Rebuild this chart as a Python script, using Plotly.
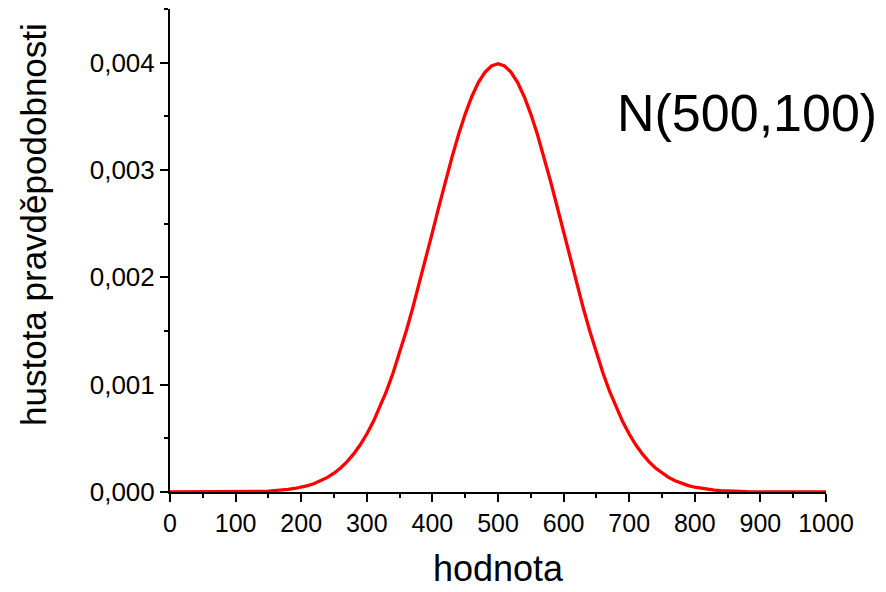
import plotly.graph_objects as go

hodnota = [0, 10, 20, 30, 40, 50, 60, 70, 80, 90,
           100, 110, 120, 130, 140, 150, 160, 170, 180, 190,
           200, 210, 220, 230, 240, 250, 260, 270, 280, 290,
           300, 310, 320, 330, 340, 350, 360, 370, 380, 390,
           400, 410, 420, 430, 440, 450, 460, 470, 480, 490,
           500, 510, 520, 530, 540, 550, 560, 570, 580, 590,
           600, 610, 620, 630, 640, 650, 660, 670, 680, 690,
           700, 710, 720, 730, 740, 750, 760, 770, 780, 790,
           800, 810, 820, 830, 840, 850, 860, 870, 880, 890,
           900, 910, 920, 930, 940, 950, 960, 970, 980, 990, 1000]
hustota = [0.0000000, 0.0000000, 0.0000000, 0.0000001, 0.0000001,
           0.0000002, 0.0000003, 0.0000004, 0.0000006, 0.0000009,
           0.0000013, 0.0000020, 0.0000029, 0.0000042, 0.0000061,
           0.0000087, 0.0000123, 0.0000172, 0.0000238, 0.0000327,
           0.0000443, 0.0000595, 0.0000792, 0.0001042, 0.0001358,
           0.0001753, 0.0002239, 0.0002833, 0.0003547, 0.0004398,
           0.0005399, 0.0006562, 0.0007895, 0.0009405, 0.0011092,
           0.0012952, 0.0014973, 0.0017137, 0.0019419, 0.0021785,
           0.0024197, 0.0026608, 0.0028969, 0.0031225, 0.0033322,
           0.0035207, 0.0036827, 0.0038139, 0.0039104, 0.0039695,
           0.0039894,
           0.0039695, 0.0039104, 0.0038139, 0.0036827, 0.0035207,
           0.0033322, 0.0031225, 0.0028969, 0.0026608, 0.0024197,
           0.0021785, 0.0019419, 0.0017137, 0.0014973, 0.0012952,
           0.0011092, 0.0009405, 0.0007895, 0.0006562, 0.0005399,
           0.0004398, 0.0003547, 0.0002833, 0.0002239, 0.0001753,
           0.0001358, 0.0001042, 0.0000792, 0.0000595, 0.0000443,
           0.0000327, 0.0000238, 0.0000172, 0.0000123, 0.0000087,
           0.0000061, 0.0000042, 0.0000029, 0.0000020, 0.0000013,
           0.0000009, 0.0000006, 0.0000004, 0.0000003, 0.0000002,
           0.0000001, 0.0000001, 0.0000000, 0.0000000, 0.0000000]
x_ticks = [0, 100, 200, 300, 400, 500, 600, 700, 800, 900, 1000]
y_ticks = [0.000, 0.001, 0.002, 0.003, 0.004]

FONT = "Liberation Sans, Arial, sans-serif"
L, R, T, B = 170, 60, 9, 100
W, H = 886, 592
pw, ph = W - L - R, H - T - B


def px(x):
    return (x - L) / pw


def py(y):
    return (H - B - y) / ph


fig = go.Figure()
fig.add_trace(go.Scatter(x=hodnota, y=hustota, mode="lines",
                         line=dict(color="#FF0000", width=3.3),
                         showlegend=False, cliponaxis=False))

fig.update_layout(
    width=W, height=H,
    margin=dict(l=L, r=R, t=T, b=B),
    paper_bgcolor="white", plot_bgcolor="white",
    separators=", ",
    font=dict(family=FONT, color="black"),
    xaxis=dict(range=[0, 1000], tickvals=x_ticks, showgrid=False, zeroline=False,
               showline=True, linecolor="black", linewidth=2,
               ticks="outside", ticklen=8, tickwidth=2, tickcolor="black",
               tickfont=dict(size=25, family=FONT),
               minor=dict(dtick=50, ticks="outside", ticklen=4, tickwidth=2, tickcolor="black")),
    yaxis=dict(range=[0, 0.0045], tickvals=y_ticks, tickformat=".3f", showgrid=False,
               zeroline=False, showline=True, linecolor="black", linewidth=2,
               ticks="outside", ticklen=8, tickwidth=2, tickcolor="black",
               tickfont=dict(size=26, family=FONT),
               minor=dict(dtick=0.0005, ticks="outside", ticklen=4, tickwidth=2, tickcolor="black")),
    annotations=[
        dict(text="N(500,100)", x=px(747), y=py(113), xref="paper", yref="paper",
             xanchor="center", yanchor="middle", showarrow=False,
             font=dict(size=52, family=FONT)),
        dict(text="hodnota", x=px(499), y=py(591), xref="paper", yref="paper",
             xanchor="center", yanchor="bottom", showarrow=False,
             font=dict(size=36, family=FONT)),
        dict(text="hustota pravděpodobnosti", x=px(34), y=py(225), xref="paper", yref="paper",
             xanchor="center", yanchor="middle", textangle=-90, showarrow=False,
             font=dict(size=35, family=FONT)),
    ],
)

fig.write_html("out.html")
